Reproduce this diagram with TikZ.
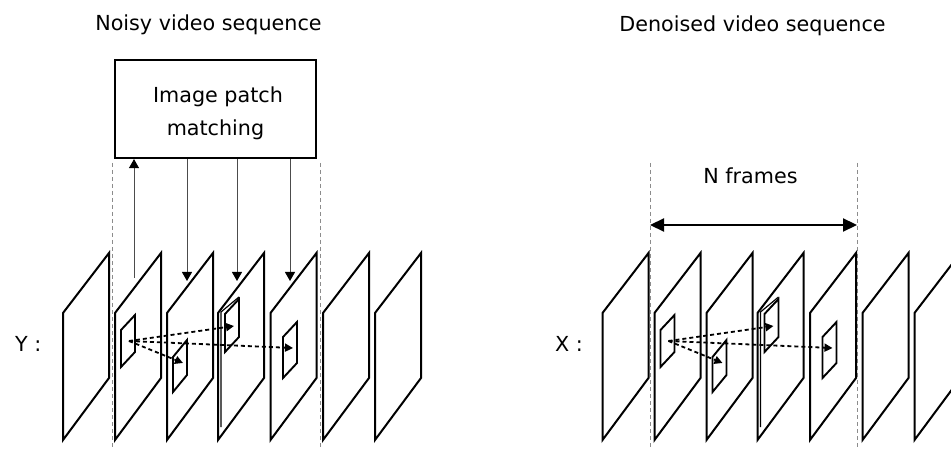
\documentclass[tikz,border=0pt]{standalone}
\usepackage{fontspec}
\setmainfont{DejaVu Sans}
\usetikzlibrary{arrows.meta}
\begin{document}
\begin{tikzpicture}[x=1pt,y=-1pt,
  framebox/.style={line width=2pt, line join=miter},
  patchbox/.style={line width=1.9pt},
  guide/.style={dashed, dash pattern=on 4pt off 3pt, black!45, line width=0.8pt},
  feed/.style={line width=0.9pt, black!70, -{Triangle[length=9pt,width=10pt,black]}},
  match/.style={line width=1.8pt, dash pattern=on 4pt off 3pt, -{Triangle[length=8pt,width=8pt]}},
  lbl/.style={font=\fontsize{20.7}{24}\selectfont, inner sep=0pt, text=black}]
\useasboundingbox (0,0) rectangle (951,449);
\clip (0,0) rectangle (951,449);

% titles
\node[lbl, anchor=base] (t1) at (208.5,31) {Noisy video sequence};
\node[lbl, anchor=base] (t2) at (752.5,31.5) {Denoised video sequence};

% matching box
\node[draw, line width=2.2pt, minimum width=201pt, minimum height=98pt, inner sep=0pt] (box) at (215.5,109) {};
\node[lbl, anchor=base] (bt1) at (218,103) {Image patch};
\node[lbl, anchor=base] (bt2) at (215.5,136) {matching};

% N frames
\node[lbl, anchor=base] (nf) at (750.5,184) {N frames};
\coordinate (nl) at (650,225);
\coordinate (nr) at (857,225);
\draw[line width=2.2pt, {Triangle[length=14pt,width=13pt]}-{Triangle[length=14pt,width=13pt]}] (nl) -- (nr);

% side labels
\node[lbl, anchor=base west] (ylab) at (15,352) {Y :};
\node[lbl, anchor=base west] (xlab) at (555,352) {X :};

% dashed guides
\coordinate (g1a) at (112,163); \coordinate (g1b) at (112,449);
\coordinate (g2a) at (320,163); \coordinate (g2b) at (320,449);
\coordinate (g3a) at (650,163); \coordinate (g3b) at (650,449);
\coordinate (g4a) at (857,163); \coordinate (g4b) at (857,449);
\draw[guide] (g1a) -- (g1b);
\draw[guide] (g2a) -- (g2b);
\draw[guide] (g3a) -- (g3b);
\draw[guide] (g4a) -- (g4b);

% sequences
\foreach \s/\n in {0/L,539.5/R}{
  \begin{scope}[xshift=\s]
    \foreach \fx in {63,115,167,218,270.5,323,375}{
      \draw[framebox] (\fx,440) -- ++(0,-127) -- ++(46,-60) -- ++(0,125) -- cycle;
    }
    \draw[line width=1.2pt] (221,427) -- (221,312) -- (239,297);
    % patches
    \draw[patchbox] (121,367) -- ++(0,-37) -- ++(14,-15) -- ++(0,37) -- cycle;
    \draw[patchbox] (173,392) -- ++(0,-35) -- ++(14,-17) -- ++(0,35) -- cycle;
    \draw[patchbox] (225,352) -- ++(0,-38) -- ++(14,-15) -- ++(0,38) -- cycle;
    \draw[patchbox] (283,378) -- ++(0,-41) -- ++(14,-15) -- ++(0,41) -- cycle;
    \coordinate (\n o) at (129,341);
    \coordinate (\n p3) at (183,363);
    \coordinate (\n p4) at (234,326);
    \coordinate (\n p5) at (293,348);
  \end{scope}
}
\foreach \n in {L,R}{
  \draw[match] (\n o) -- (\n p3);
  \draw[match] (\n o) -- (\n p4);
  \draw[match] (\n o) -- (\n p5);
}

% feed arrows to/from the box
\coordinate (u1) at (134,278);
\coordinate (d1) at (187,281);
\coordinate (d2) at (237,281);
\coordinate (d3) at (290,281);
\draw[feed] (u1) -- (u1 |- box.south);
\draw[feed] (box.south -| d1) -- (d1);
\draw[feed] (box.south -| d2) -- (d2);
\draw[feed] (box.south -| d3) -- (d3);
\end{tikzpicture}
\end{document}
